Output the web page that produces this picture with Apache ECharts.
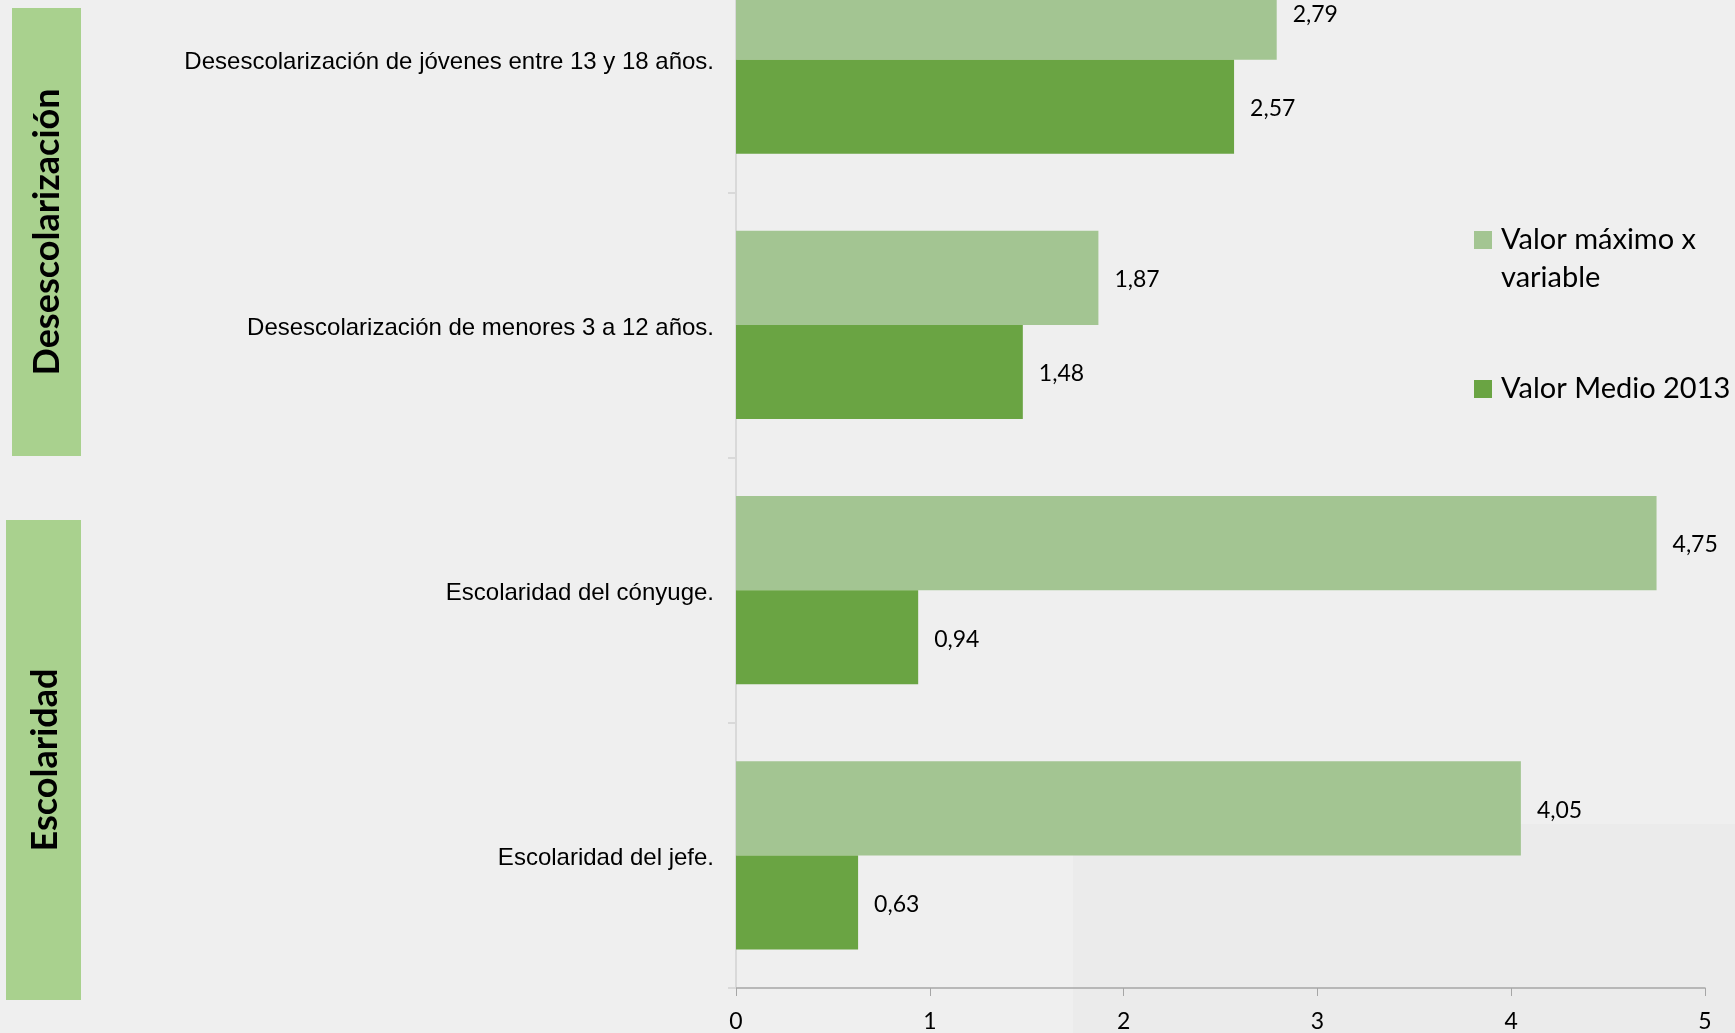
<!DOCTYPE html>
<html>
<head>
<meta charset="utf-8">
<script src="https://cdn.jsdelivr.net/npm/echarts@6/dist/echarts.min.js"></script>
<style>
html,body{margin:0;padding:0;background:#EFEFEF;overflow:hidden;width:1735px;height:1033px;position:relative;}
/* the original chart is cropped at its top: the drawing area starts above the page */
#chart{position:absolute;left:0;top:-73px;width:1735px;height:1106px;}
</style>
</head>
<body>
<div id="chart"></div>
<script>
// Categories listed bottom to top (category axis on y)
var categories = [
  'Escolaridad del jefe.',
  'Escolaridad del cónyuge.',
  'Desescolarización de menores 3 a 12 años.',
  'Desescolarización de jóvenes entre 13 y 18 años.'
];
var seriesNames = ['Valor máximo x variable', 'Valor Medio 2013'];
var valorMaximo = [4.05, 4.75, 1.87, 2.79];
var valorMedio = [0.63, 0.94, 1.48, 2.57];
var xTicks = [0, 1, 2, 3, 4, 5];
var groupLabels = ['Desescolarización', 'Escolaridad'];

var OFF = 73; // page-to-canvas vertical offset
var LIGHT = '#A3C592';
var DARK = '#6AA443';
var BOX = '#A9D18E';
var calibriLike = 'Lato, "Open Sans", sans-serif';
var SQUARE = 'path://M0,0H10V10H0Z';

function fmt(p) { return String(p.value).replace('.', ','); }

var chart = echarts.init(document.getElementById('chart'), null, {renderer: 'canvas'});
chart.setOption({
  backgroundColor: '#EFEFEF',
  animation: false,
  grid: {left: 736, right: 30, top: 0, bottom: 45, containLabel: false},
  xAxis: {
    type: 'value',
    min: xTicks[0],
    max: xTicks[xTicks.length - 1],
    interval: 1,
    splitLine: {show: false},
    axisLine: {show: true, lineStyle: {color: '#A6A6A6', width: 1.5}},
    axisTick: {show: true, length: 8, lineStyle: {color: '#A6A6A6', width: 1}},
    axisLabel: {
      margin: 22,
      fontFamily: calibriLike,
      fontSize: 23,
      color: '#000',
      formatter: function (v) { return String(v).replace('.', ','); }
    }
  },
  yAxis: {
    type: 'category',
    data: categories,
    axisLine: {show: true, lineStyle: {color: '#D9D9D9', width: 2}},
    axisTick: {show: true, length: 8, lineStyle: {color: '#D9D9D9', width: 2}},
    axisLabel: {
      margin: 22,
      formatter: function (v) { return '{c|' + v + '}'; },
      rich: {
        c: {
          padding: [6, 0, 0, 0],
          fontFamily: '"Liberation Sans", Arial, sans-serif',
          fontSize: 24,
          color: '#000'
        }
      },
      fontFamily: '"Liberation Sans", Arial, sans-serif',
      fontSize: 24,
      color: '#000'
    }
  },
  legend: [
    {
      data: [seriesNames[0]],
      orient: 'vertical',
      left: 1474,
      top: 183 + OFF,
      padding: 0,
      itemWidth: 26,
      itemHeight: 18,
      symbolKeepAspect: true,
      icon: SQUARE,
      formatter: function () { return '\nValor máximo x\nvariable'; },
      textStyle: {
        fontFamily: calibriLike,
        fontSize: 29,
        lineHeight: 38,
        color: '#000'
      },
      selectedMode: false
    },
    {
      data: [seriesNames[1]],
      orient: 'vertical',
      left: 1474,
      top: 370 + OFF,
      padding: 0,
      itemWidth: 26,
      itemHeight: 18,
      symbolKeepAspect: true,
      icon: SQUARE,
      textStyle: {
        fontFamily: calibriLike,
        fontSize: 29,
        lineHeight: 38,
        color: '#000'
      },
      selectedMode: false
    }
  ],
  series: [
    {
      name: seriesNames[0],
      type: 'bar',
      data: valorMaximo,
      barGap: '0%',
      barCategoryGap: '29%',
      itemStyle: {color: LIGHT},
      label: {
        show: true, position: 'right', distance: 16, offset: [0, 2],
        fontFamily: calibriLike, fontSize: 23, color: '#000',
        formatter: fmt
      }
    },
    {
      name: seriesNames[1],
      type: 'bar',
      data: valorMedio,
      barGap: '0%',
      barCategoryGap: '29%',
      itemStyle: {color: DARK},
      label: {
        show: true, position: 'right', distance: 16, offset: [0, 2],
        fontFamily: calibriLike, fontSize: 23, color: '#000',
        formatter: fmt
      }
    }
  ],
  graphic: [
    {type: 'rect', z: -10, silent: true, shape: {x: 1073, y: 824 + OFF, width: 662, height: 209}, style: {fill: '#EBEBEB'}},
    {type: 'rect', z: 10, silent: true, shape: {x: 12, y: 8 + OFF, width: 69, height: 448}, style: {fill: BOX}},
    {type: 'rect', z: 10, silent: true, shape: {x: 6, y: 520 + OFF, width: 75, height: 480}, style: {fill: BOX}},
    {type: 'text', z: 11, silent: true, x: 47, y: 232 + OFF, rotation: Math.PI / 2,
     style: {text: groupLabels[0], fontFamily: calibriLike, fontWeight: 'bold', fontSize: 36, fill: '#000', align: 'center', verticalAlign: 'middle'}},
    {type: 'text', z: 11, silent: true, x: 45, y: 760 + OFF, rotation: Math.PI / 2,
     style: {text: groupLabels[1], fontFamily: calibriLike, fontWeight: 'bold', fontSize: 36, fill: '#000', align: 'center', verticalAlign: 'middle'}}
  ]
});
</script>
</body>
</html>
